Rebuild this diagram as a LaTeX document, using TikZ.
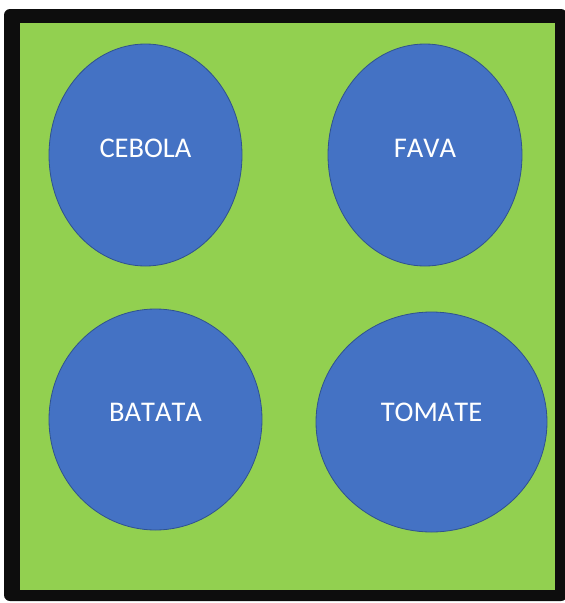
\documentclass[tikz,border=0pt]{standalone}
\usepackage{fontspec}
\setmainfont{Carlito}[Kerning=Off]
\usetikzlibrary{shapes.geometric}
\definecolor{plotgreen}{HTML}{92D050}
\definecolor{cropblue}{HTML}{4472C4}
\definecolor{cropedge}{HTML}{2F528F}
\begin{document}
\begin{tikzpicture}[x=1pt, y=-1pt,
	crop/.style={ellipse, inner sep=0pt, fill=cropblue, draw=cropedge, line width=0.8pt},
	croplabel/.style={text=white, font=\fontsize{28.5}{30}\selectfont}]
	\useasboundingbox (0, 0) rectangle (565, 603);
	% frame and garden bed
	\fill[black!95, rounded corners=6pt] (4, 9) rectangle (567, 601);
	\fill[plotgreen] (20, 23) rectangle (555, 590);
	
	\node[crop, minimum width=193pt, minimum height=222pt,
		label={[croplabel, yshift=7pt]center:CEBOLA}] (cebola) at (145.5, 155) {};
	\node[crop, minimum width=194pt, minimum height=222pt,
		label={[croplabel, yshift=7pt]center:FAVA}] (fava) at (425, 155) {};
	\node[crop, minimum width=213pt, minimum height=221pt,
		label={[croplabel, yshift=7pt]center:BATATA}] (batata) at (155.5, 419.5) {};
	\node[crop, minimum width=231pt, minimum height=220pt,
		label={[croplabel, yshift=10pt]center:TOMATE}] (tomate) at (431.5, 422) {};
\end{tikzpicture}
\end{document}
